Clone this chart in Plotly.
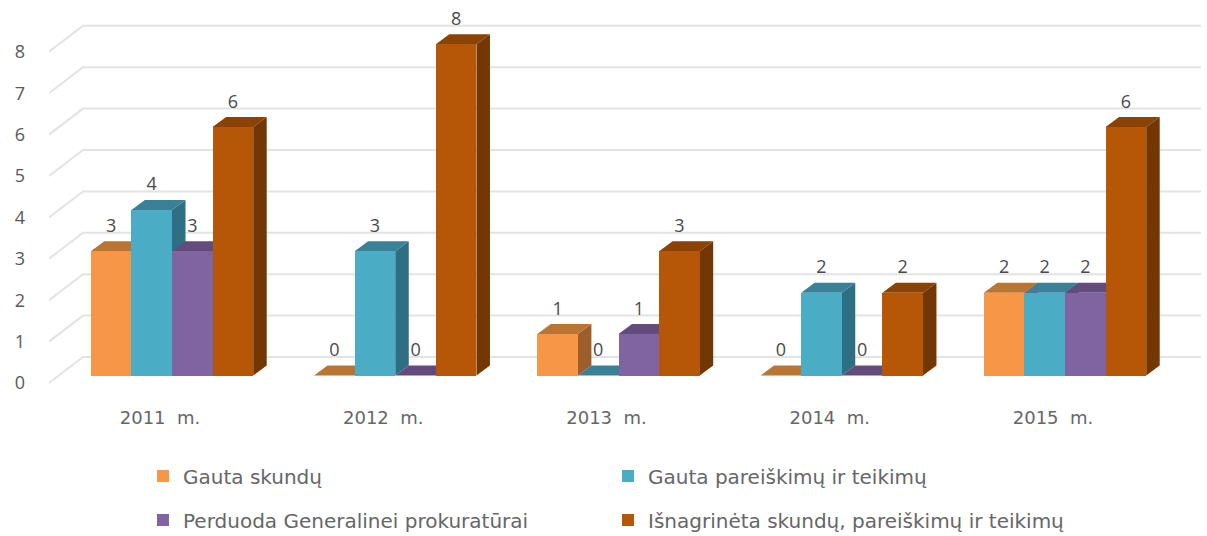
import plotly.graph_objects as go

categories = ["2011\u00a0 m.", "2012\u00a0 m.", "2013\u00a0 m.", "2014\u00a0 m.", "2015\u00a0 m."]
gauta_skundu = [3, 0, 1, 0, 2]
gauta_pareiskimu = [4, 3, 0, 2, 2]
perduoda = [3, 0, 1, 0, 2]
isnagrineta = [6, 8, 3, 2, 6]
y_ticks = [0, 1, 2, 3, 4, 5, 6, 7, 8]

series = [
    ("Gauta skundų", gauta_skundu, "#F79646", "#BA7434", "#9C5E2B"),
    ("Gauta pareiškimų ir teikimų", gauta_pareiskimu, "#4BACC6", "#3A8096", "#2F6F83"),
    ("Perduoda Generalinei prokuratūrai", perduoda, "#8064A2", "#634B7C", "#54406B"),
    ("Išnagrinėta skundų, pareiškimų ir teikimų", isnagrineta, "#B65708", "#8A4205", "#733704"),
]
legend_px = [(143, 476), (608, 476), (143, 520), (608, 520)]

# pixel geometry of the pseudo-3D frame
W, H = 1207, 536
PX_UNIT_X, PX_UNIT_Y = 223.25, 41.4
X0_PX, Y0_PX = 172.0, 375.5
L, R, B = 49, 6, 133
plot_w, plot_h = W - L - R, H - B
bar_w = 40.6 / PX_UNIT_X
dx, dy = 13.5 / PX_UNIT_X, 10 / PX_UNIT_Y
wall_dx, wall_dy = 34 / PX_UNIT_X, 26 / PX_UNIT_Y
front_off = -7.5 / PX_UNIT_Y
label_off = 24 / PX_UNIT_Y
x_lo, x_hi = (L - X0_PX) / PX_UNIT_X, (W - R - X0_PX) / PX_UNIT_X
y_lo, y_hi = (Y0_PX - plot_h) / PX_UNIT_Y, Y0_PX / PX_UNIT_Y

FONT = "Open Sans"
WIDE = "DejaVu Sans"
fig = go.Figure()

gx, gy = [], []
for v in y_ticks:
    gx += [x_lo, x_lo + wall_dx, x_hi, None]
    gy += [v + front_off, v + front_off + wall_dy, v + front_off + wall_dy, None]
fig.add_trace(go.Scatter(x=gx, y=gy, mode="lines", line=dict(color="#E3E3E3", width=2),
                         showlegend=False, hoverinfo="skip", zorder=0))

idx = list(range(len(categories)))
for s, (name, vals, front, top, side) in enumerate(series):
    lefts = [i - 2 * bar_w + s * bar_w for i in idx]
    sx, sy, tx, ty = [], [], [], []
    for x0, v in zip(lefts, vals):
        x1 = x0 + bar_w
        sx += [x1, x1 + dx, x1 + dx, x1, x1, None]
        sy += [0, dy, v + dy, v, 0, None]
        tx += [x0, x1, x1 + dx, x0 + dx, x0, None]
        ty += [v, v, v + dy, v + dy, v, None]
    fig.add_trace(go.Scatter(x=sx, y=sy, mode="lines", fill="toself", fillcolor=side,
                             line=dict(width=0, color=side), showlegend=False,
                             hoverinfo="skip", zorder=2 * s + 1))
    fig.add_trace(go.Scatter(x=tx, y=ty, mode="lines", fill="toself", fillcolor=top,
                             line=dict(width=0, color=top), showlegend=False,
                             hoverinfo="skip", zorder=2 * s + 1))
    fig.add_trace(go.Bar(x=[l + bar_w / 2 for l in lefts], y=vals, width=bar_w, name=name,
                         marker=dict(color=front, line=dict(width=0)),
                         legend="legend" if s == 0 else f"legend{s + 1}",
                         zorder=2 * s + 2))

for s, (name, vals, *_rest) in enumerate(series):
    fig.add_trace(go.Scatter(
        x=[i - 2 * bar_w + s * bar_w + bar_w / 2 for i in idx],
        y=[v + label_off for v in vals],
        text=[str(v) for v in vals], mode="text", textposition="middle center",
        textfont=dict(family=FONT, size=18, color="#4A4A4A"),
        showlegend=False, hoverinfo="skip", cliponaxis=False, zorder=20))

legends = {}
for k, (px, py) in enumerate(legend_px):
    key = "legend" if k == 0 else f"legend{k + 1}"
    legends[key] = dict(x=(px - L) / plot_w, y=(plot_h - py) / plot_h, xanchor="left", yanchor="middle",
                        bgcolor="rgba(0,0,0,0)", borderwidth=0,
                        font=dict(family=WIDE, size=20, color="#666666"))

fig.update_layout(
    width=W, height=H, paper_bgcolor="white", plot_bgcolor="white",
    margin=dict(l=L, r=R, t=0, b=B, pad=0, autoexpand=False),
    barmode="overlay", bargap=0, showlegend=True,
    xaxis=dict(range=[x_lo, x_hi], tickmode="array", tickvals=[i - 12 / PX_UNIT_X for i in idx],
               ticktext=categories, showgrid=False, zeroline=False, showline=False, ticks="",
               tickfont=dict(family=WIDE, size=18, color="#666666"), ticklabelstandoff=2),
    yaxis=dict(range=[y_lo, y_hi], tickmode="array", tickvals=[v + front_off for v in y_ticks],
               ticktext=[str(v) for v in y_ticks], showgrid=False, zeroline=False, showline=False, ticks="",
               tickfont=dict(family=FONT, size=18, color="#595959"), ticklabelstandoff=23),
    **legends,
)
post = "document.body.style.margin='0';document.documentElement.style.overflow='hidden';"
fig.write_html("out.html", config={"displayModeBar": False}, post_script=post)
